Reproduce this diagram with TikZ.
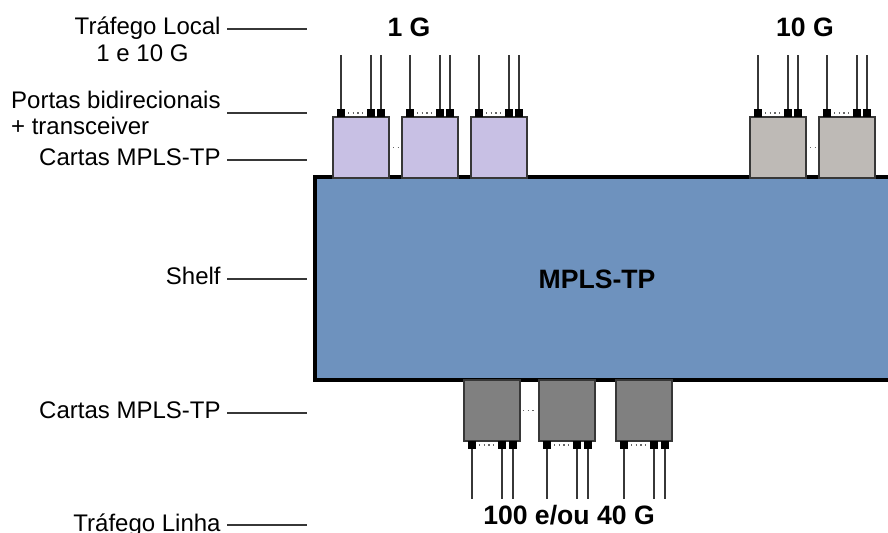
\documentclass[tikz,border=0pt]{standalone}
\usepackage{fontspec}
\setmainfont{Liberation Sans}
\usetikzlibrary{positioning, calc}

\definecolor{lilas}{RGB}{200,192,228}
\definecolor{cinzaclaro}{RGB}{190,186,182}
\definecolor{cinzaescuro}{RGB}{128,128,128}
\definecolor{azulshelf}{RGB}{110,146,190}
\definecolor{traco}{RGB}{55,55,55}

\begin{document}
\begin{tikzpicture}[x=0.5pt, y=-0.5pt,
  rotulo/.style={font=\fontsize{12}{13}\selectfont, inner sep=3pt, anchor=east,
                 text height=9pt, text depth=3pt},
  titulo/.style={font=\fontsize{13.3}{15}\selectfont\bfseries, inner sep=0pt},
  guia/.style={draw=traco, line width=0.8pt},
  bastidor/.style={draw=black, fill=azulshelf, line width=2pt, inner sep=0pt, outer sep=0pt,
                   minimum width=300pt, minimum height=101.5pt},
  carta/.style={draw=traco, line width=1pt, inner sep=0pt, outer sep=0pt,
                minimum width=28pt, minimum height=30.5pt},
  porta/.style={fill=black, inner sep=0pt, outer sep=0pt, minimum size=4pt},
  fio/.style={draw=traco, line width=0.8pt},
  pontos/.style={draw=gray!80!black, line width=0.7pt, dash pattern=on 0.7pt off 1.63pt,
                 shorten <=1.5pt, shorten >=1.5pt}]
  \useasboundingbox (0,0) rectangle (888,533);

  % Shelf
  \node[bastidor, anchor=north west] (shelf) at (315,177) {};
  \node[titulo] (mpls) at (597,279) {MPLS-TP};

  % Cartas de trafego local
  \coordinate (alto) at (0,55);
  \foreach \x/\n/\c in {333/a/lilas, 402/b/lilas, 471/c/lilas, 750/d/cinzaclaro, 819/e/cinzaclaro} {
    \node[carta, fill=\c, anchor=south west] (c\n) at (\x,178) {};
    \foreach \o/\k in {4/1, 19/2, 24/3}
      \node[porta, anchor=south] (c\n\k) at ([xshift=\o pt]c\n.north west) {};
    \foreach \k in {1,2,3}
      \draw[fio] (c\n\k.north) -- (c\n\k.north |- alto);
    \draw[pontos] (c\n1) -- (c\n2);
  }
  \draw[pontos, shorten <=2pt, shorten >=2pt] (ca) -- (cb);
  \draw[pontos, shorten <=2pt, shorten >=2pt] (cd) -- (ce);

  % Cartas de trafego linha
  \coordinate (baixo) at (0,499);
  \foreach \x/\n in {464/f, 539/g, 616/h} {
    \node[carta, fill=cinzaescuro, anchor=north west] (c\n) at (\x,380) {};
    \foreach \o/\k in {4/1, 19/2, 24.5/3}
      \node[porta, anchor=north] (c\n\k) at ([xshift=\o pt]c\n.south west) {};
    \foreach \k in {1,2,3}
      \draw[fio] (c\n\k.south) -- (c\n\k.south |- baixo);
    \draw[pontos] (c\n1) -- (c\n2);
  }
  \draw[pontos, shorten <=1.5pt, shorten >=2.5pt] (cf) -- (cg);

  % Taxas
  \node[titulo] (umg) at (409,27) {1 G};
  \node[titulo] (dezg) at (805,27) {10 G};
  \node[titulo, anchor=base] (linhag) at (569,524) {100 e/ou 40 G};

  % Legendas a esquerda
  \coordinate (fim) at (307,0);
  \node[rotulo] (local) at (227,29) {Tráfego Local};
  \node[rotulo, anchor=center] (localg) at (142.5,56) {1 e 10 G};
  \node[font=\fontsize{12}{13}\selectfont, inner sep=3pt, anchor=east, align=left]
    (portas) at (227,113) {Portas bidirecionais\\+ transceiver};
  \node[rotulo] (cartas1) at (227,160) {Cartas MPLS-TP};
  \node[rotulo] (shelflbl) at (227,279) {Shelf};
  \node[rotulo] (cartas2) at (227,413) {Cartas MPLS-TP};
  \node[rotulo] (linha) at (227,525) {Tráfego Linha};

  \foreach \r in {local, portas, cartas1, shelflbl, cartas2, linha}
    \draw[guia] (\r) -- (\r -| fim);
\end{tikzpicture}
\end{document}
